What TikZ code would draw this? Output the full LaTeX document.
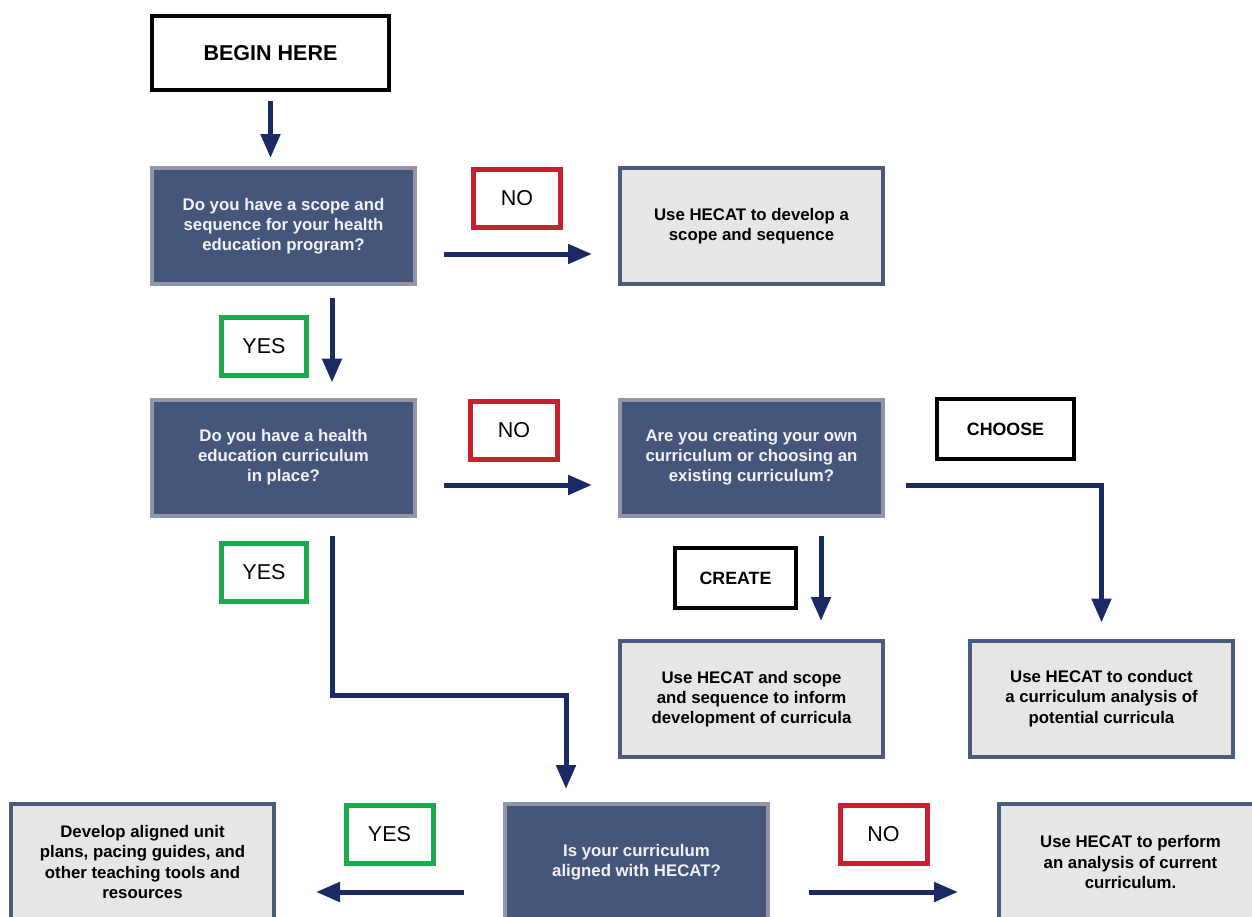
\documentclass[tikz,border=0pt]{standalone}
\usepackage{fontspec}
\setmainfont{Liberation Sans}
\usetikzlibrary{arrows.meta}
\definecolor{darkfill}{HTML}{46567A}
\definecolor{darkedge}{HTML}{9394AA}
\definecolor{lightfill}{HTML}{E8E6E5}
\definecolor{lightedge}{HTML}{4B5B7E}
\definecolor{navy}{HTML}{1B2A64}
\definecolor{nored}{HTML}{C8202F}
\definecolor{yesgreen}{HTML}{1AA94B}
\definecolor{paletext}{HTML}{F2F2F6}
\tikzset{
  question/.style={draw=darkedge, fill=darkfill, line width=4pt, minimum width=263pt, minimum height=116pt,
    align=center, text=paletext, font=\bfseries\fontsize{16.8}{20}\selectfont, inner sep=0pt},
  action/.style={draw=lightedge, fill=lightfill, line width=4pt, minimum width=263pt, minimum height=116pt,
    align=center, text=black, font=\bfseries\fontsize{16.8}{20.3}\selectfont, inner sep=0pt},
  nolabel/.style={draw=nored, fill=white, line width=5pt, minimum width=87pt, minimum height=58pt,
    font=\fontsize{21.5}{24}\selectfont, inner sep=0pt},
  yeslabel/.style={draw=yesgreen, fill=white, line width=5pt, minimum width=85pt, minimum height=58pt,
    font=\fontsize{21.5}{24}\selectfont, inner sep=0pt},
  choicelabel/.style={draw=black, fill=white, line width=4pt, minimum height=60pt,
    font=\bfseries\fontsize{17.8}{20}\selectfont, inner sep=0pt},
  arr/.style={draw=navy, line width=5pt, -{Triangle[length=24pt,width=19pt]}},
}
\begin{document}
\begin{tikzpicture}[x=1pt,y=-1pt]
\useasboundingbox (0,0) rectangle (1252,916);
\clip (0,0) rectangle (1252,916);
\fill[white] (0,0) rectangle (1252,916);

\node[choicelabel, minimum width=237pt, minimum height=74pt, font=\bfseries\fontsize{21.5}{24}\selectfont] (begin) at (270.5,53) {BEGIN HERE};

\node[question] (q1) at (283.5,226) {Do you have a scope and\\sequence for your health\\education program?};
\node[action] (a1) at (751.5,226) {Use HECAT to develop a\\scope and sequence};
\node[nolabel] (no1) at (517,198) {NO};
\node[yeslabel] (yes1) at (264,346) {YES};

\node[question] (q2) at (283.5,457.5) {Do you have a health\\education curriculum\\in place?};
\node[question] (q3) at (751.5,457.5) {Are you creating your own\\curriculum or choosing an\\existing curriculum?};
\node[nolabel] (no2) at (514,430) {NO};
\node[choicelabel, minimum width=137pt] (choose) at (1005.5,429) {CHOOSE};
\node[yeslabel] (yes2) at (264,572) {YES};
\node[choicelabel, minimum width=121pt] (create) at (735.5,578) {CREATE};

\node[action] (a2) at (751.5,699) {Use HECAT and scope\\and sequence to inform\\development of curricula};
\node[action] (a3) at (1101.5,698.5) {Use HECAT to conduct\\a curriculum analysis of\\potential curricula};

\node[question] (q4) at (636.5,862) {Is your curriculum\\aligned with HECAT?};
\node[action] (b1) at (142.5,862) {Develop aligned unit\\plans, pacing guides, and\\other teaching tools and\\resources};
\node[action] (b3) at (1130.5,862) {Use HECAT to perform\\an analysis of current\\curriculum.};
\node[yeslabel, minimum width=87pt] (yes3) at (389.5,834) {YES};
\node[nolabel] (no3) at (883.5,834) {NO};

\coordinate (bend) at (449,695);

\draw[arr] ([yshift=-9pt]begin.south) -- ([yshift=8pt]begin.south |- q1.north);
\draw[arr] ([xshift=27pt,yshift=-28pt]q1.east) -- ([xshift=-26pt,yshift=-28pt]a1.west);
\draw[arr] ([xshift=48.5pt,yshift=-12pt]q1.south) -- ([xshift=48.5pt,yshift=15pt]q2.north);
\draw[arr] ([xshift=27pt,yshift=-27.5pt]q2.east) -- ([xshift=-26pt,yshift=-27.5pt]q3.west);
\draw[arr] ([xshift=21pt,yshift=-27.5pt]q3.east) -| ([yshift=16pt]a3.north);
\draw[arr] ([xshift=69.5pt,yshift=-18pt]q3.south) -- ([xshift=69.5pt,yshift=18pt]a2.north);
\draw[arr] ([xshift=48.5pt,yshift=-18pt]q2.south) |- (bend) -| ([xshift=-70.5pt,yshift=13pt]q4.north);
\draw[arr] ([xshift=-39pt,yshift=-30pt]q4.west) -- ([xshift=40pt,yshift=-30pt]b1.east);
\draw[arr] ([xshift=39pt,yshift=-30pt]q4.east) -- ([xshift=-39pt,yshift=-30pt]b3.west);
\end{tikzpicture}
\end{document}
